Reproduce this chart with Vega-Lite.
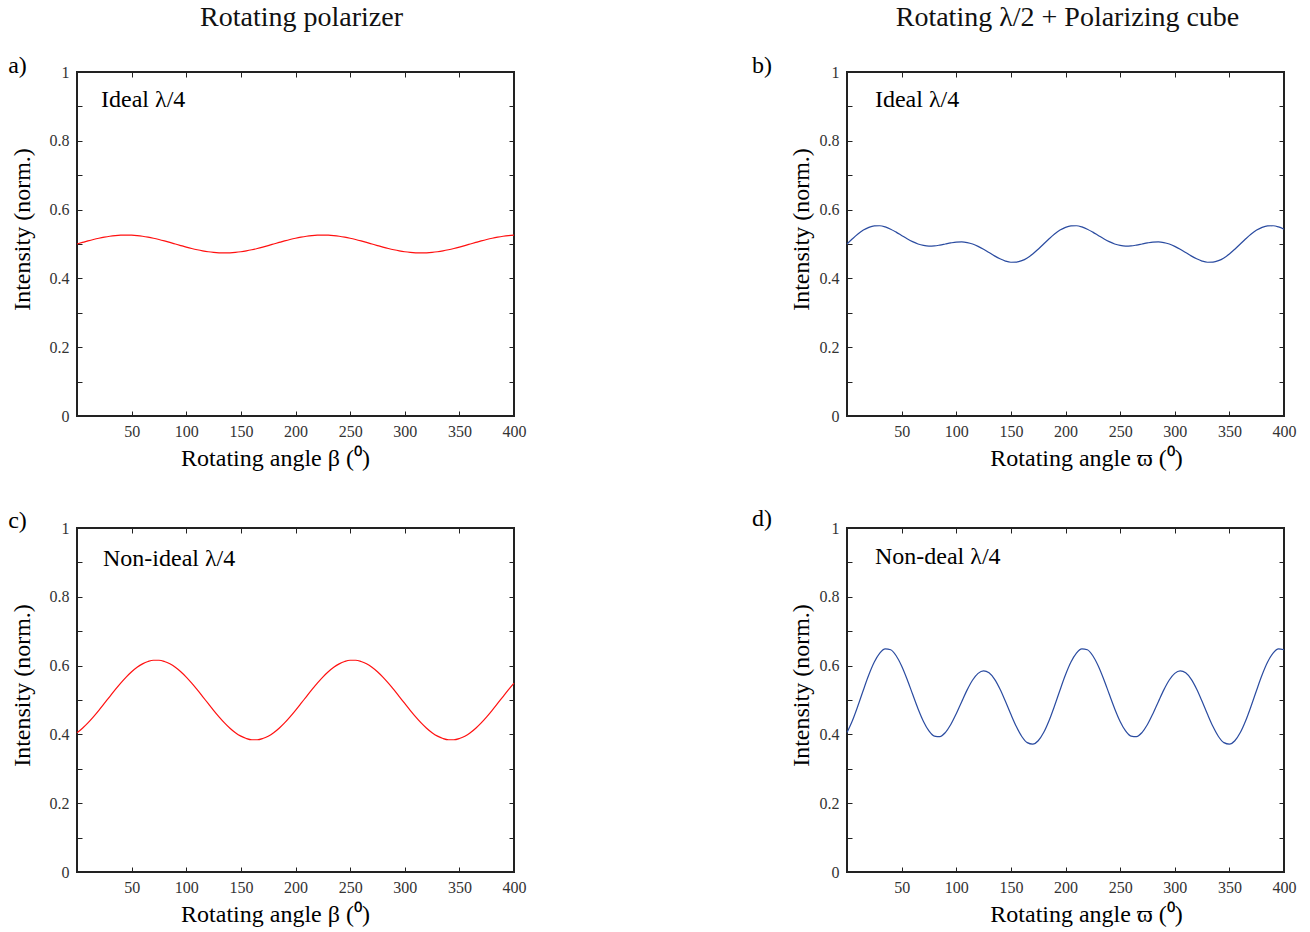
{
  "$schema": "https://vega.github.io/schema/vega-lite/v6.json",
  "background": "white",
  "padding": {"left": 7, "top": 3, "right": 5, "bottom": 5},
  "data": {"values": [
    {"x":0,"a":0.5,"b":0.5,"c":0.405,"d":0.4054},
    {"x":5,"a":0.5045,"b":0.5151,"c":0.418,"d":0.4405},
    {"x":10,"a":0.5089,"b":0.529,"c":0.4335,"d":0.4833},
    {"x":15,"a":0.513,"b":0.5404,"c":0.451,"d":0.5292},
    {"x":20,"a":0.5167,"b":0.5485,"c":0.47,"d":0.5732},
    {"x":25,"a":0.5199,"b":0.5527,"c":0.4899,"d":0.6102},
    {"x":30,"a":0.5225,"b":0.553,"c":0.5101,"d":0.6363},
    {"x":35,"a":0.5244,"b":0.5496,"c":0.53,"d":0.6487},
    {"x":40,"a":0.5256,"b":0.5431,"c":0.549,"d":0.646},
    {"x":45,"a":0.526,"b":0.5345,"c":0.5665,"d":0.6287},
    {"x":50,"a":0.5256,"b":0.5249,"c":0.582,"d":0.5989},
    {"x":55,"a":0.5244,"b":0.5153,"c":0.595,"d":0.5603},
    {"x":60,"a":0.5225,"b":0.5068,"c":0.6051,"d":0.5172},
    {"x":65,"a":0.5199,"b":0.5001,"c":0.612,"d":0.4748},
    {"x":70,"a":0.5167,"b":0.4959,"c":0.6156,"d":0.4377},
    {"x":75,"a":0.513,"b":0.4941,"c":0.6156,"d":0.4101},
    {"x":80,"a":0.5089,"b":0.4946,"c":0.612,"d":0.3949},
    {"x":85,"a":0.5045,"b":0.4969,"c":0.6051,"d":0.3934},
    {"x":90,"a":0.5,"b":0.5,"c":0.595,"d":0.4054},
    {"x":95,"a":0.4955,"b":0.5031,"c":0.582,"d":0.4287},
    {"x":100,"a":0.4911,"b":0.5054,"c":0.5665,"d":0.4601},
    {"x":105,"a":0.487,"b":0.5059,"c":0.549,"d":0.4952},
    {"x":110,"a":0.4833,"b":0.5041,"c":0.53,"d":0.5294},
    {"x":115,"a":0.4801,"b":0.4999,"c":0.5101,"d":0.5581},
    {"x":120,"a":0.4775,"b":0.4932,"c":0.4899,"d":0.5774},
    {"x":125,"a":0.4756,"b":0.4847,"c":0.47,"d":0.5848},
    {"x":130,"a":0.4744,"b":0.4752,"c":0.451,"d":0.579},
    {"x":135,"a":0.474,"b":0.4655,"c":0.4335,"d":0.5607},
    {"x":140,"a":0.4744,"b":0.4569,"c":0.418,"d":0.532},
    {"x":145,"a":0.4756,"b":0.4504,"c":0.405,"d":0.4964},
    {"x":150,"a":0.4775,"b":0.447,"c":0.3949,"d":0.4583},
    {"x":155,"a":0.4801,"b":0.4473,"c":0.388,"d":0.4227},
    {"x":160,"a":0.4833,"b":0.4515,"c":0.3844,"d":0.394},
    {"x":165,"a":0.487,"b":0.4596,"c":0.3844,"d":0.3761},
    {"x":170,"a":0.4911,"b":0.471,"c":0.388,"d":0.3717},
    {"x":175,"a":0.4955,"b":0.4849,"c":0.3949,"d":0.3816},
    {"x":180,"a":0.5,"b":0.5,"c":0.405,"d":0.4054},
    {"x":185,"a":0.5045,"b":0.5151,"c":0.418,"d":0.4405},
    {"x":190,"a":0.5089,"b":0.529,"c":0.4335,"d":0.4833},
    {"x":195,"a":0.513,"b":0.5404,"c":0.451,"d":0.5292},
    {"x":200,"a":0.5167,"b":0.5485,"c":0.47,"d":0.5732},
    {"x":205,"a":0.5199,"b":0.5527,"c":0.4899,"d":0.6102},
    {"x":210,"a":0.5225,"b":0.553,"c":0.5101,"d":0.6363},
    {"x":215,"a":0.5244,"b":0.5496,"c":0.53,"d":0.6487},
    {"x":220,"a":0.5256,"b":0.5431,"c":0.549,"d":0.646},
    {"x":225,"a":0.526,"b":0.5345,"c":0.5665,"d":0.6287},
    {"x":230,"a":0.5256,"b":0.5249,"c":0.582,"d":0.5989},
    {"x":235,"a":0.5244,"b":0.5153,"c":0.595,"d":0.5603},
    {"x":240,"a":0.5225,"b":0.5068,"c":0.6051,"d":0.5172},
    {"x":245,"a":0.5199,"b":0.5001,"c":0.612,"d":0.4748},
    {"x":250,"a":0.5167,"b":0.4959,"c":0.6156,"d":0.4377},
    {"x":255,"a":0.513,"b":0.4941,"c":0.6156,"d":0.4101},
    {"x":260,"a":0.5089,"b":0.4946,"c":0.612,"d":0.3949},
    {"x":265,"a":0.5045,"b":0.4969,"c":0.6051,"d":0.3934},
    {"x":270,"a":0.5,"b":0.5,"c":0.595,"d":0.4054},
    {"x":275,"a":0.4955,"b":0.5031,"c":0.582,"d":0.4287},
    {"x":280,"a":0.4911,"b":0.5054,"c":0.5665,"d":0.4601},
    {"x":285,"a":0.487,"b":0.5059,"c":0.549,"d":0.4952},
    {"x":290,"a":0.4833,"b":0.5041,"c":0.53,"d":0.5294},
    {"x":295,"a":0.4801,"b":0.4999,"c":0.5101,"d":0.5581},
    {"x":300,"a":0.4775,"b":0.4932,"c":0.4899,"d":0.5774},
    {"x":305,"a":0.4756,"b":0.4847,"c":0.47,"d":0.5848},
    {"x":310,"a":0.4744,"b":0.4752,"c":0.451,"d":0.579},
    {"x":315,"a":0.474,"b":0.4655,"c":0.4335,"d":0.5607},
    {"x":320,"a":0.4744,"b":0.4569,"c":0.418,"d":0.532},
    {"x":325,"a":0.4756,"b":0.4504,"c":0.405,"d":0.4964},
    {"x":330,"a":0.4775,"b":0.447,"c":0.3949,"d":0.4583},
    {"x":335,"a":0.4801,"b":0.4473,"c":0.388,"d":0.4227},
    {"x":340,"a":0.4833,"b":0.4515,"c":0.3844,"d":0.394},
    {"x":345,"a":0.487,"b":0.4596,"c":0.3844,"d":0.3761},
    {"x":350,"a":0.4911,"b":0.471,"c":0.388,"d":0.3717},
    {"x":355,"a":0.4955,"b":0.4849,"c":0.3949,"d":0.3816},
    {"x":360,"a":0.5,"b":0.5,"c":0.405,"d":0.4054},
    {"x":365,"a":0.5045,"b":0.5151,"c":0.418,"d":0.4405},
    {"x":370,"a":0.5089,"b":0.529,"c":0.4335,"d":0.4833},
    {"x":375,"a":0.513,"b":0.5404,"c":0.451,"d":0.5292},
    {"x":380,"a":0.5167,"b":0.5485,"c":0.47,"d":0.5732},
    {"x":385,"a":0.5199,"b":0.5527,"c":0.4899,"d":0.6102},
    {"x":390,"a":0.5225,"b":0.553,"c":0.5101,"d":0.6363},
    {"x":395,"a":0.5244,"b":0.5496,"c":0.53,"d":0.6487},
    {"x":400,"a":0.5256,"b":0.5431,"c":0.549,"d":0.646}
  ]},
  "columns": 2,
  "spacing": {"row": 112, "column": 333},
  "bounds": "flush",
  "concat": [
    {
      "width": 437, "height": 344,
      "title": {"text": "Rotating polarizer", "dx": 6, "offset": 22},
      "layer": [
        {"mark": {"type": "line", "color": "#ff1010", "strokeWidth": 1.2, "interpolate": "monotone"},
         "encoding": {
           "x": {"field": "x", "type": "quantitative", "scale": {"domain": [0, 400], "nice": false, "zero": false},
                 "axis": {"orient": "bottom", "values": [50,100,150,200,250,300,350,400], "format": "d", "title": "Rotating angle β (⁰)", "titleX": 198, "labelPadding": 12, "titlePadding": 7}},
           "y": {"field": "a", "type": "quantitative", "scale": {"domain": [0, 1], "nice": false, "zero": false},
                 "axis": {"orient": "left", "values": [0,0.1,0.2,0.3,0.4,0.5,0.6,0.7,0.8,0.9,1], "format": "~g", "labelExpr": "round(datum.value*10) % 2 == 0 ? datum.label : ''", "title": "Intensity (norm.)", "titleY": 157, "titlePadding": 15, "labelPadding": 13}}
         }},
        {"mark": {"type": "line", "opacity": 0},
         "encoding": {
           "x": {"field": "x", "type": "quantitative", "scale": {"domain": [0, 400], "nice": false, "zero": false},
                 "axis": {"orient": "top", "values": [50,100,150,200,250,300,350,400], "labels": false, "title": null}},
           "y": {"field": "a", "type": "quantitative", "scale": {"domain": [0, 1], "nice": false, "zero": false},
                 "axis": {"orient": "right", "values": [0,0.1,0.2,0.3,0.4,0.5,0.6,0.7,0.8,0.9,1], "labels": false, "title": null}}
         }},
        {"data": {"values": [{"t": "Ideal λ/4"}]},
         "mark": {"type": "text", "align": "left", "baseline": "middle"},
         "encoding": {
           "x": {"datum": 22, "type": "quantitative", "scale": {"domain": [0, 400], "nice": false, "zero": false}, "axis": null},
           "y": {"datum": 0.919, "type": "quantitative", "scale": {"domain": [0, 1], "nice": false, "zero": false}, "axis": null},
           "text": {"field": "t"}
         }},
        {"data": {"values": [{"t": "a)"}]},
         "mark": {"type": "text", "align": "left", "baseline": "middle"},
         "encoding": {
           "x": {"datum": -63, "type": "quantitative", "scale": {"domain": [0, 400], "nice": false, "zero": false}, "axis": null},
           "y": {"datum": 1.017, "type": "quantitative", "scale": {"domain": [0, 1], "nice": false, "zero": false}, "axis": null},
           "text": {"field": "t"}
         }}
      ],
      "resolve": {"axis": {"x": "independent", "y": "independent"}}
    },
    {
      "width": 437, "height": 344,
      "title": {"text": "Rotating λ/2 + Polarizing cube", "dx": 2, "offset": 22},
      "layer": [
        {"mark": {"type": "line", "color": "#2a4ba0", "strokeWidth": 1.2, "interpolate": "monotone"},
         "encoding": {
           "x": {"field": "x", "type": "quantitative", "scale": {"domain": [0, 400], "nice": false, "zero": false},
                 "axis": {"orient": "bottom", "values": [50,100,150,200,250,300,350,400], "format": "d", "title": "Rotating angle ϖ (⁰)", "titleX": 239, "labelPadding": 12, "titlePadding": 7}},
           "y": {"field": "b", "type": "quantitative", "scale": {"domain": [0, 1], "nice": false, "zero": false},
                 "axis": {"orient": "left", "values": [0,0.1,0.2,0.3,0.4,0.5,0.6,0.7,0.8,0.9,1], "format": "~g", "labelExpr": "round(datum.value*10) % 2 == 0 ? datum.label : ''", "title": "Intensity (norm.)", "titleY": 157, "titlePadding": 6, "labelPadding": 13}}
         }},
        {"mark": {"type": "line", "opacity": 0},
         "encoding": {
           "x": {"field": "x", "type": "quantitative", "scale": {"domain": [0, 400], "nice": false, "zero": false},
                 "axis": {"orient": "top", "values": [50,100,150,200,250,300,350,400], "labels": false, "title": null}},
           "y": {"field": "b", "type": "quantitative", "scale": {"domain": [0, 1], "nice": false, "zero": false},
                 "axis": {"orient": "right", "values": [0,0.1,0.2,0.3,0.4,0.5,0.6,0.7,0.8,0.9,1], "labels": false, "title": null}}
         }},
        {"data": {"values": [{"t": "Ideal λ/4"}]},
         "mark": {"type": "text", "align": "left", "baseline": "middle"},
         "encoding": {
           "x": {"datum": 25.6, "type": "quantitative", "scale": {"domain": [0, 400], "nice": false, "zero": false}, "axis": null},
           "y": {"datum": 0.919, "type": "quantitative", "scale": {"domain": [0, 1], "nice": false, "zero": false}, "axis": null},
           "text": {"field": "t"}
         }},
        {"data": {"values": [{"t": "b)"}]},
         "mark": {"type": "text", "align": "left", "baseline": "middle"},
         "encoding": {
           "x": {"datum": -87, "type": "quantitative", "scale": {"domain": [0, 400], "nice": false, "zero": false}, "axis": null},
           "y": {"datum": 1.017, "type": "quantitative", "scale": {"domain": [0, 1], "nice": false, "zero": false}, "axis": null},
           "text": {"field": "t"}
         }}
      ],
      "resolve": {"axis": {"x": "independent", "y": "independent"}}
    },
    {
      "width": 437, "height": 344,
      "layer": [
        {"mark": {"type": "line", "color": "#ff1010", "strokeWidth": 1.2, "interpolate": "monotone"},
         "encoding": {
           "x": {"field": "x", "type": "quantitative", "scale": {"domain": [0, 400], "nice": false, "zero": false},
                 "axis": {"orient": "bottom", "values": [50,100,150,200,250,300,350,400], "format": "d", "title": "Rotating angle β (⁰)", "titleX": 198, "labelPadding": 12, "titlePadding": 7}},
           "y": {"field": "c", "type": "quantitative", "scale": {"domain": [0, 1], "nice": false, "zero": false},
                 "axis": {"orient": "left", "values": [0,0.1,0.2,0.3,0.4,0.5,0.6,0.7,0.8,0.9,1], "format": "~g", "labelExpr": "round(datum.value*10) % 2 == 0 ? datum.label : ''", "title": "Intensity (norm.)", "titleY": 157, "titlePadding": 15, "labelPadding": 13}}
         }},
        {"mark": {"type": "line", "opacity": 0},
         "encoding": {
           "x": {"field": "x", "type": "quantitative", "scale": {"domain": [0, 400], "nice": false, "zero": false},
                 "axis": {"orient": "top", "values": [50,100,150,200,250,300,350,400], "labels": false, "title": null}},
           "y": {"field": "c", "type": "quantitative", "scale": {"domain": [0, 1], "nice": false, "zero": false},
                 "axis": {"orient": "right", "values": [0,0.1,0.2,0.3,0.4,0.5,0.6,0.7,0.8,0.9,1], "labels": false, "title": null}}
         }},
        {"data": {"values": [{"t": "Non-ideal λ/4"}]},
         "mark": {"type": "text", "align": "left", "baseline": "middle"},
         "encoding": {
           "x": {"datum": 23.8, "type": "quantitative", "scale": {"domain": [0, 400], "nice": false, "zero": false}, "axis": null},
           "y": {"datum": 0.91, "type": "quantitative", "scale": {"domain": [0, 1], "nice": false, "zero": false}, "axis": null},
           "text": {"field": "t"}
         }},
        {"data": {"values": [{"t": "c)"}]},
         "mark": {"type": "text", "align": "left", "baseline": "middle"},
         "encoding": {
           "x": {"datum": -63, "type": "quantitative", "scale": {"domain": [0, 400], "nice": false, "zero": false}, "axis": null},
           "y": {"datum": 1.02, "type": "quantitative", "scale": {"domain": [0, 1], "nice": false, "zero": false}, "axis": null},
           "text": {"field": "t"}
         }}
      ],
      "resolve": {"axis": {"x": "independent", "y": "independent"}}
    },
    {
      "width": 437, "height": 344,
      "layer": [
        {"mark": {"type": "line", "color": "#2a4ba0", "strokeWidth": 1.2, "interpolate": "monotone"},
         "encoding": {
           "x": {"field": "x", "type": "quantitative", "scale": {"domain": [0, 400], "nice": false, "zero": false},
                 "axis": {"orient": "bottom", "values": [50,100,150,200,250,300,350,400], "format": "d", "title": "Rotating angle ϖ (⁰)", "titleX": 239, "labelPadding": 12, "titlePadding": 7}},
           "y": {"field": "d", "type": "quantitative", "scale": {"domain": [0, 1], "nice": false, "zero": false},
                 "axis": {"orient": "left", "values": [0,0.1,0.2,0.3,0.4,0.5,0.6,0.7,0.8,0.9,1], "format": "~g", "labelExpr": "round(datum.value*10) % 2 == 0 ? datum.label : ''", "title": "Intensity (norm.)", "titleY": 157, "titlePadding": 6, "labelPadding": 13}}
         }},
        {"mark": {"type": "line", "opacity": 0},
         "encoding": {
           "x": {"field": "x", "type": "quantitative", "scale": {"domain": [0, 400], "nice": false, "zero": false},
                 "axis": {"orient": "top", "values": [50,100,150,200,250,300,350,400], "labels": false, "title": null}},
           "y": {"field": "d", "type": "quantitative", "scale": {"domain": [0, 1], "nice": false, "zero": false},
                 "axis": {"orient": "right", "values": [0,0.1,0.2,0.3,0.4,0.5,0.6,0.7,0.8,0.9,1], "labels": false, "title": null}}
         }},
        {"data": {"values": [{"t": "Non-deal λ/4"}]},
         "mark": {"type": "text", "align": "left", "baseline": "middle"},
         "encoding": {
           "x": {"datum": 25.6, "type": "quantitative", "scale": {"domain": [0, 400], "nice": false, "zero": false}, "axis": null},
           "y": {"datum": 0.916, "type": "quantitative", "scale": {"domain": [0, 1], "nice": false, "zero": false}, "axis": null},
           "text": {"field": "t"}
         }},
        {"data": {"values": [{"t": "d)"}]},
         "mark": {"type": "text", "align": "left", "baseline": "middle"},
         "encoding": {
           "x": {"datum": -87, "type": "quantitative", "scale": {"domain": [0, 400], "nice": false, "zero": false}, "axis": null},
           "y": {"datum": 1.026, "type": "quantitative", "scale": {"domain": [0, 1], "nice": false, "zero": false}, "axis": null},
           "text": {"field": "t"}
         }}
      ],
      "resolve": {"axis": {"x": "independent", "y": "independent"}}
    }
  ],
  "config": {
    "font": "Liberation Serif",
    "view": {"stroke": "#222", "strokeWidth": 2},
    "axis": {"grid": false, "domain": false, "tickSize": -5, "tickColor": "#222", "tickWidth": 1,
             "labelFont": "Liberation Serif", "labelFontSize": 16, "labelColor": "#333",
             "titleFont": "Liberation Serif", "titleFontSize": 24, "titleFontWeight": "normal", "titleColor": "#000",
             "labelFlush": false, "labelOverlap": false},
    "title": {"font": "Liberation Serif", "fontSize": 28, "fontWeight": "normal", "color": "#111"},
    "text": {"font": "Liberation Serif", "fontSize": 24, "color": "#000"}
  }
}
